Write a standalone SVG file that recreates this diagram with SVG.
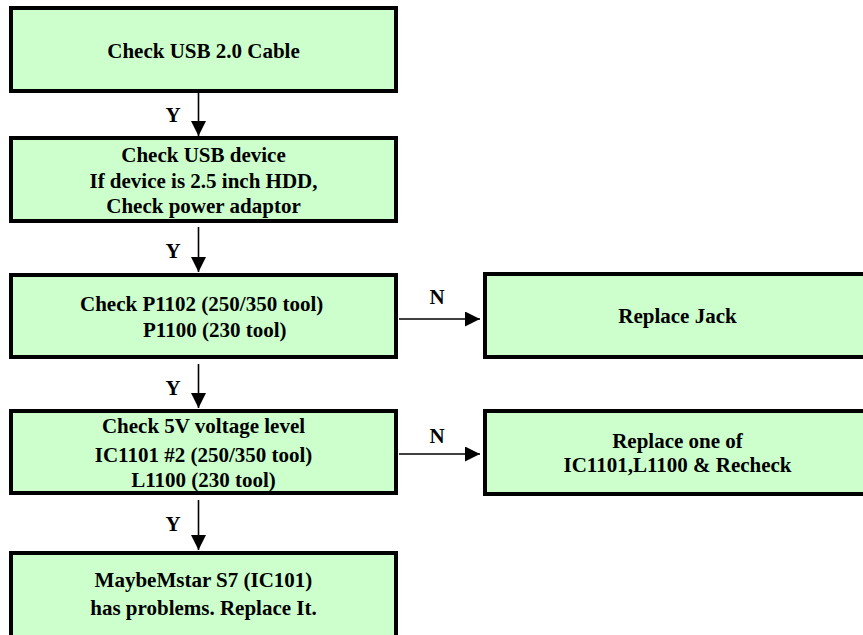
<svg xmlns="http://www.w3.org/2000/svg" width="863" height="635" viewBox="0 0 863 635">
<defs>
<style>
.box{fill:#CCFFCC;stroke:#000;stroke-width:4}
.t{font-family:"Liberation Serif","Times New Roman",serif;font-weight:bold;font-size:21px;fill:#000;text-anchor:middle}
.s{text-anchor:start}
.lbl{font-family:"Liberation Serif","Times New Roman",serif;font-weight:bold;font-size:21px;fill:#000;text-anchor:middle}
.c{stroke:#000;stroke-width:1.6;fill:none;marker-end:url(#ah)}
</style>
<marker id="ah" markerUnits="userSpaceOnUse" markerWidth="16" markerHeight="16" refX="15" refY="7.5" orient="auto">
<path d="M0,0 L15,7.5 L0,15 z" fill="#000"/>
</marker>
</defs>
<rect width="863" height="635" fill="#fff"/>
<g id="n1">
<rect class="box" x="11" y="8" width="385" height="83"/>
<text class="t" x="203.5" y="58">Check USB 2.0 Cable</text>
</g>
<g id="n2">
<rect class="box" x="11" y="138" width="385" height="83"/>
<text class="t" x="203.5" y="162">Check USB device</text>
<text class="t" x="203.5" y="188">If device is 2.5 inch HDD,</text>
<text class="t" x="203.5" y="213">Check power adaptor</text>
</g>
<g id="n3">
<rect class="box" x="11" y="275" width="385" height="82"/>
<text class="t s" x="80" y="311">Check P1102 (250/350 tool)</text>
<text class="t s" x="143" y="337">P1100 (230 tool)</text>
</g>
<g id="n4">
<rect class="box" x="11" y="411" width="385" height="82"/>
<text class="t" x="203.5" y="433">Check 5V voltage level</text>
<text class="t" x="203.5" y="462">IC1101 #2 (250/350 tool)</text>
<text class="t" x="203.5" y="487">L1100 (230 tool)</text>
</g>
<g id="n5">
<rect class="box" x="11" y="553" width="385" height="100"/>
<text class="t" x="203.5" y="587">MaybeMstar S7 (IC101)</text>
<text class="t" x="203.5" y="615">has problems. Replace It.</text>
</g>
<g id="r1">
<rect class="box" x="485" y="274" width="400" height="83"/>
<text class="t" x="677.5" y="323">Replace Jack</text>
</g>
<g id="r2">
<rect class="box" x="485" y="411" width="400" height="83"/>
<text class="t" x="677.5" y="448">Replace one of</text>
<text class="t" x="677.5" y="472">IC1101,L1100 &amp; Recheck</text>
</g>
<g id="connectors">
<line class="c" x1="198.5" y1="93" x2="198.5" y2="136"/>
<line class="c" x1="198.5" y1="227" x2="198.5" y2="272"/>
<line class="c" x1="198.5" y1="364" x2="198.5" y2="408"/>
<line class="c" x1="198.5" y1="500" x2="198.5" y2="550"/>
<line class="c" x1="399" y1="319" x2="480" y2="319"/>
<line class="c" x1="399" y1="454" x2="480" y2="454"/>
<text class="lbl" x="173" y="122">Y</text>
<text class="lbl" x="173" y="258">Y</text>
<text class="lbl" x="173" y="395">Y</text>
<text class="lbl" x="173" y="531">Y</text>
<text class="lbl" x="437" y="304">N</text>
<text class="lbl" x="437" y="443">N</text>
</g>
</svg>
